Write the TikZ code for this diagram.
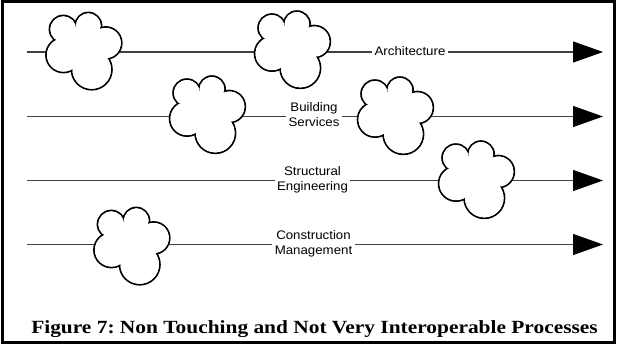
\documentclass[tikz,border=0pt]{standalone}
\usepackage{graphicx}
\usepackage{fontspec}
\setmainfont{Liberation Serif}
\newfontfamily\arialf{Liberation Sans}
\usetikzlibrary{arrows.meta}
\frenchspacing
\newcommand\lab[1]{\scalebox{1.07}[1]{\begin{tabular}{@{}c@{}}#1\end{tabular}}}
\tikzset{
  every picture/.style={x=1pt,y=-1pt},
  flow/.style={draw=black!75, line width=1.1pt, -{Triangle[length=30pt,width=21pt,fill=black,color=black]}},
  lbl/.style={fill=white, inner sep=2.5pt, font=\arialf\fontsize{12.4}{15.5}\selectfont},
  frame/.style={draw=black, line width=3pt},
  cloudpic/.pic={
    \foreach \cx/\cy/\rr in {-20.7/-22.7/13.8, 4.3/-26.3/13.2, 21.7/-9/16, 7.7/17.5/20.2, -20.5/3/17.5}
      \draw[line width=1.8pt, fill=white] (\cx,\cy) circle[radius=\rr pt];
    \fill[white] (-20.7,-22.7) -- (4.3,-26.3) -- (21.7,-9) -- (7.7,17.5) -- (-20.5,3) -- cycle;
    \foreach \cx/\cy/\rr in {-20.7/-22.7/13.8, 4.3/-26.3/13.2, 21.7/-9/16, 7.7/17.5/20.2, -20.5/3/17.5}{
      \pgfmathsetmacro\ri{\rr-0.9}
      \fill[white] (\cx,\cy) circle[radius=\ri pt];
    }
  }
}
\begin{document}
\begin{tikzpicture}
\useasboundingbox (0,0) rectangle (617,344);
\draw[frame] (2,1.5) rectangle (614.5,342.5);
% row end points
\coordinate (s1) at (27,52);    \coordinate (e1) at (603,52);
\coordinate (s2) at (27,116.5); \coordinate (e2) at (603,116.5);
\coordinate (s3) at (27,180.5); \coordinate (e3) at (603,180.5);
\coordinate (s4) at (27,244.5); \coordinate (e4) at (603,244.5);
\draw[flow] (s1) -- (e1);
\draw[flow] (s2) -- (e2);
\draw[flow] (s3) -- (e3);
\draw[flow] (s4) -- (e4);
% clouds
\pic (c1) at (84,52) {cloudpic};
\pic (c2) at (292.6,50.6) {cloudpic};
\pic (c3) at (207.6,115.6) {cloudpic};
\pic (c4) at (395.6,116.6) {cloudpic};
\pic (c5) at (476.6,180.6) {cloudpic};
\pic (c6) at (132,247) {cloudpic};
% labels
\node[lbl] (arch) at (410,52) {\lab{Architecture}};
\node[lbl] (bs) at (314,116) {\lab{Building\\Services}};
\node[lbl] (se) at (312.5,180) {\lab{Structural\\Engineering}};
\node[lbl] (cm) at (313.5,244) {\lab{Construction\\Management}};
% caption
\node[anchor=base, inner sep=0pt, font=\bfseries\fontsize{18.6}{20}\selectfont] (cap) at (314.5,333.3)
  {\scalebox{1.15}[1]{Figure 7: Non Touching and Not Very Interoperable Processes}};
\end{tikzpicture}
\end{document}
